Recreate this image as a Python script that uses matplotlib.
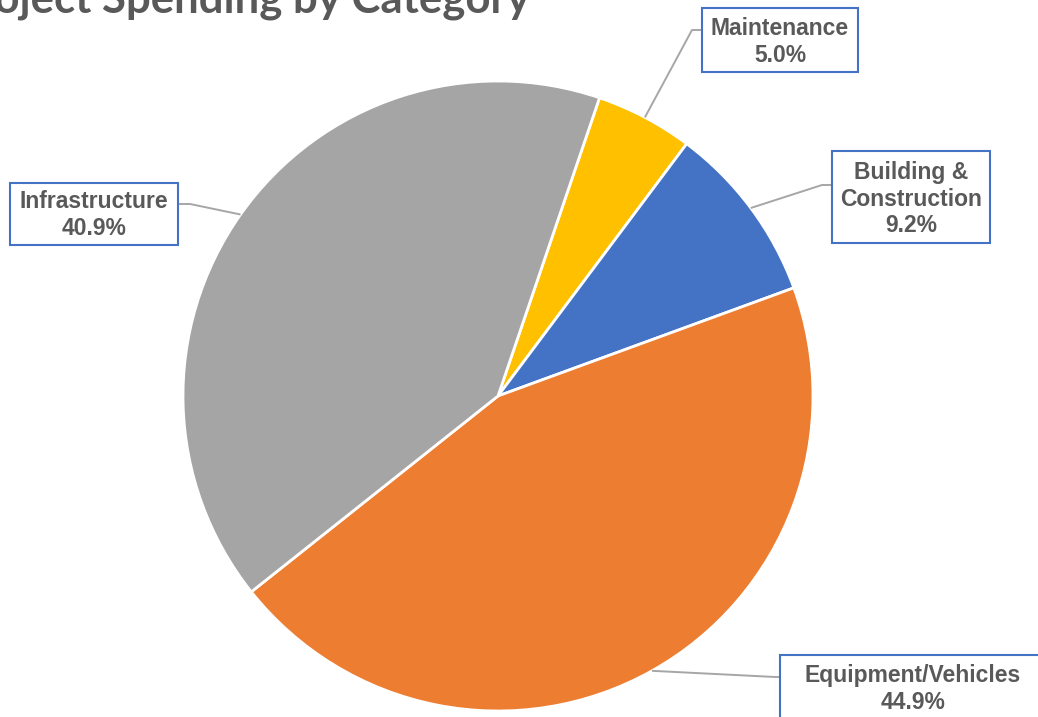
import numpy as np
import matplotlib
matplotlib.use("Agg")
import matplotlib.pyplot as plt
from matplotlib.patches import Rectangle

# data
categories = ["Maintenance", "Building &\nConstruction", "Equipment/Vehicles", "Infrastructure"]
shares = [5.0, 9.2, 44.9, 40.9]
colors = ["#FFC000", "#4472C4", "#ED7D31", "#A5A5A5"]

W, H = 1038, 717
fig = plt.figure(figsize=(W / 100, H / 100), dpi=100)
ax = fig.add_axes([0, 0, 1, 1])

cx, cy, r = 498, H - 396, 315
wedges, _ = ax.pie(shares, colors=colors, startangle=71.2, counterclock=False,
                   center=(cx, cy), radius=r, frame=True,
                   wedgeprops={"edgecolor": "white", "linewidth": 2})
ax.set_xlim(0, W)
ax.set_ylim(0, H)
ax.set_aspect("equal")
ax.axis("off")

# label boxes (pixel coords from top-left): x0, y0, x1, y1, elbow, text centre
boxes = [
    (702, 8, 858, 72, (692, 30), (780, 42)),
    (832, 151, 990, 243, (822, 185), (911, 199)),
    (780, 655, 1045, 730, (775, 677), (913, 689)),
    (10, 183, 178, 245, (190, 204), (94, 215)),
]

txt = "#595959"
for w, name, pct, (x0, y0, x1, y1, elbow, tc) in zip(wedges, categories, shares, boxes):
    mid = np.deg2rad((w.theta1 + w.theta2) / 2)
    px, py = cx + r * np.cos(mid), cy + r * np.sin(mid)
    side = x0 if x0 > cx else x1
    ex, ey = elbow
    ax.plot([px, ex, side], [py, H - ey, H - ey], color="#A6A6A6", lw=1.4,
            solid_capstyle="butt", zorder=3)
    ax.add_patch(Rectangle((x0, H - y1), x1 - x0, y1 - y0, facecolor="white",
                           edgecolor="#4472C4", lw=1.5, zorder=4))
    ax.text(tc[0], H - tc[1], f"{name}\n{pct:.1f}%", ha="center", va="center",
            fontsize=16.5, fontweight="bold", family="Liberation Sans", color=txt,
            linespacing=1.2, zorder=5)

# title, partly cut off at the top-left like the source
fig.text(530 / W, 1 - 13 / H, "Project Spending by Category", ha="right",
         va="baseline", fontsize=31.5, fontweight="bold", family="Lato", color=txt)

fig.savefig("out.png", dpi=100)
